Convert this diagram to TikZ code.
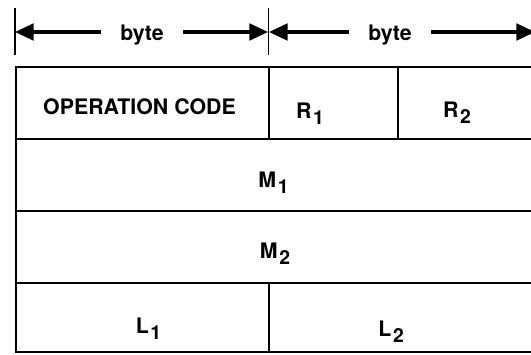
\documentclass[tikz,border=0pt]{standalone}
\usepackage{fontspec}
\setmainfont{TeX Gyre Heros}
\usetikzlibrary{arrows.meta}
\tikzset{every picture/.style={line width=0.75pt}}
\tikzset{
  dimline/.style={line width=2.3pt,-{Triangle[length=14pt,width=12.5pt]}},
  gridline/.style={line width=1.5pt},
  fieldtext/.style={anchor=base,inner sep=0.75pt,font=\fontsize{16}{19}\selectfont\bfseries},
}
\newcommand{\fieldsub}[1]{\kern0.08em\raisebox{-0.32em}{\fontsize{14.5}{17}\selectfont #1}}

\begin{document}
\begin{tikzpicture}[x=0.75pt,y=0.75pt,yscale=-1,xscale=1]
\useasboundingbox (0,0) rectangle (531,354);
\clip (0,0) rectangle (531,354);

%Straight Lines: ends of the two bytes
\draw [line width=1.2pt] (15,8) -- (15,55);
\draw [line width=1.2pt] (268.5,8) -- (268.5,55);

\coordinate (t0) at (15,32);
\coordinate (t1) at (268,32);
\coordinate (t2) at (269,32);
\coordinate (t3) at (535,32);

% Text Node
\draw (142,40) node [fieldtext,inner xsep=14pt] (byte1) {byte};
% Text Node
\draw (390,40) node [fieldtext,inner xsep=14pt] (byte2) {byte};

%Straight Lines
\draw [dimline] (byte1.west |- t0) -- (t0);
\draw [dimline] (byte1.east |- t0) -- (t1);
\draw [dimline] (byte2.west |- t0) -- (t2);
\draw [dimline] (byte2.east |- t0) -- (t3);

%Shape: Rectangle
\draw [gridline] (16,67) rectangle (534,352);
%Straight Lines
\draw [gridline] (16,139) -- (534,139);
\draw [gridline] (16,211) -- (534,211);
\draw [gridline] (16,283) -- (534,283);
\draw [gridline] (269,67) -- (269,139);
\draw [gridline] (398,67) -- (398,139);
\draw [gridline] (269,283) -- (269,352);

% Text Node
\draw (139.5,114) node [fieldtext] (opcode) {OPERATION CODE};
% Text Node
\draw (310,118) node [fieldtext] (reg1) {R\fieldsub{1}};
% Text Node
\draw (457,117) node [fieldtext] (reg2) {R\fieldsub{2}};
% Text Node
\draw (273.5,187) node [fieldtext] (mem1) {M\fieldsub{1}};
% Text Node
\draw (275,258) node [fieldtext] (mem2) {M\fieldsub{2}};
% Text Node
\draw (148.5,333) node [fieldtext] (len1) {L\fieldsub{1}};
% Text Node
\draw (391,336) node [fieldtext] (len2) {L\fieldsub{2}};

\end{tikzpicture}
\end{document}
